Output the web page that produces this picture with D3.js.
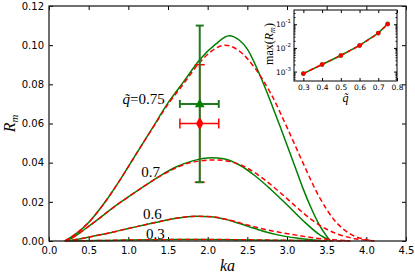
<!DOCTYPE html>
<html>
<head>
<meta charset="utf-8">
<script src="https://cdn.jsdelivr.net/npm/d3@7"></script>
<style>
  body { margin: 0; background: #fff; }
  svg { display: block; }
  .tick text { font-family: 'DejaVu Sans', sans-serif; fill: #000; }
  .tick line { stroke: #000; }
</style>
</head>
<body>
<script>
/* global d3 */
'use strict'

// main panel: R_m against ka, green solid and red dashed for each q
var green75 = [[0.2, 0], [0.35, 0.004], [0.5, 0.0095], [0.7, 0.0195], [0.9, 0.0315], [1.1, 0.0445],
  [1.3, 0.0575], [1.5, 0.0705], [1.7, 0.0815], [1.9, 0.0925], [2.1, 0.1005], [2.27, 0.1048],
  [2.4, 0.1025], [2.5, 0.098], [2.66, 0.0845], [2.8, 0.0705], [2.91, 0.0588], [3.0, 0.049],
  [3.1, 0.038], [3.2, 0.027], [3.3, 0.0172], [3.4, 0.0088], [3.5, 0.0025], [3.55, 0]]
var red75 = [[0.2, 0], [0.35, 0.004], [0.5, 0.0095], [0.7, 0.0195], [0.9, 0.0315], [1.1, 0.0445],
  [1.3, 0.0572], [1.5, 0.0698], [1.7, 0.0805], [1.9, 0.0912], [2.05, 0.097], [2.22, 0.1],
  [2.4, 0.097], [2.6, 0.088], [2.8, 0.075], [3.0, 0.058], [3.2, 0.04], [3.4, 0.023],
  [3.6, 0.0105], [3.8, 0.0035], [4.0, 0.0007], [4.1, 0]]
var green70 = [[0.2, 0], [0.3, 0.0018], [0.45, 0.006], [0.6, 0.0105], [0.8, 0.0168], [1.0, 0.0225],
  [1.2, 0.028], [1.4, 0.0333], [1.6, 0.0378], [1.8, 0.0408], [2.05, 0.0425], [2.2, 0.042],
  [2.4, 0.0388], [2.6, 0.0332], [2.8, 0.0262], [3.0, 0.0185], [3.2, 0.0105], [3.4, 0.0035], [3.55, 0]]
var red70 = [[0.2, 0], [0.3, 0.0018], [0.45, 0.006], [0.6, 0.0105], [0.8, 0.0168], [1.0, 0.0225],
  [1.2, 0.028], [1.4, 0.0331], [1.6, 0.0373], [1.8, 0.0402], [2.1, 0.0414], [2.3, 0.0404],
  [2.5, 0.0372], [2.7, 0.0318], [2.9, 0.0252], [3.1, 0.018], [3.3, 0.0112], [3.5, 0.006],
  [3.7, 0.0027], [3.9, 0.0009], [4.1, 0]]
var green60 = [[0.2, 0], [0.4, 0.0012], [0.6, 0.0028], [0.8, 0.0045], [1.0, 0.0064], [1.2, 0.0082],
  [1.4, 0.01], [1.6, 0.0116], [1.86, 0.0127], [2.05, 0.0124], [2.28, 0.0105], [2.5, 0.0076],
  [2.7, 0.005], [2.9, 0.003], [3.12, 0.0015], [3.3, 0.0006], [3.5, 0]]
var red60 = [[0.2, 0], [0.4, 0.0012], [0.6, 0.0028], [0.8, 0.0045], [1.0, 0.0064], [1.2, 0.0082],
  [1.4, 0.01], [1.6, 0.0116], [1.86, 0.0126], [2.05, 0.0124], [2.28, 0.0106], [2.5, 0.0082],
  [2.7, 0.0061], [2.9, 0.0045], [3.12, 0.003], [3.3, 0.0018], [3.54, 0.0008], [3.8, 0]]
var green30 = [[0.2, 0], [0.6, 0.0002], [1.0, 0.0005], [1.5, 0.0007], [1.9, 0.0008], [2.3, 0.0007],
  [2.7, 0.0004], [3.1, 0.0002], [3.5, 0]]
var red30 = [[0.2, 0], [0.6, 0.0002], [1.0, 0.0005], [1.5, 0.0007], [1.9, 0.0008], [2.3, 0.0007],
  [2.7, 0.0005], [3.1, 0.0003], [3.5, 0.0001], [3.8, 0]]

var curveLabels = [
  { ka: 1.46, r: 0.0700, text: '0.75', tilde: true },
  { ka: 1.4, r: 0.0325, text: '0.7' },
  { ka: 1.42, r: 0.011, text: '0.6' },
  { ka: 1.46, r: 0.0011, text: '0.3' }
]

// the two measured points with error bars
var greenPoint = { ka: 1.9, r: 0.07, kaLo: 1.65, kaHi: 2.14, rLo: 0.03, rHi: 0.11 }
var redPoint = { ka: 1.9, r: 0.06, kaLo: 1.65, kaHi: 2.14, rLo: 0.03, rHi: 0.09 }

var xTicks = [0, 0.5, 1, 1.5, 2, 2.5, 3, 3.5, 4, 4.5]
var yTicks = [0, 0.02, 0.04, 0.06, 0.08, 0.1, 0.12]

// inset: max(R_m) against q
var qValues = [0.3, 0.4, 0.5, 0.6, 0.7, 0.75]
var maxGreen = [0.00082, 0.002, 0.0048, 0.0127, 0.0425, 0.1048]
var maxRed = [0.00082, 0.002, 0.0048, 0.0126, 0.0414, 0.1]
var insetXTicks = [0.3, 0.4, 0.5, 0.6, 0.7, 0.8]
var insetYTicks = [1e-3, 1e-2, 1e-1]
var insetExp = ['-3', '-2', '-1']

var W = 415
var H = 277
var green = '#008000'
var red = '#ff0000'

var svg = d3.select('body').append('svg')
  .attr('width', W)
  .attr('height', H)

var x = d3.scaleLinear().domain([0, 4.5]).range([49, 406])
var y = d3.scaleLinear().domain([0, 0.12]).range([241, 6])

// axes with inward ticks on all four sides
svg.append('g')
  .attr('transform', 'translate(0,' + y(0) + ')')
  .call(d3.axisBottom(x).tickValues(xTicks).tickSize(-4).tickPadding(6)
    .tickFormat(d3.format('.1f')))
  .call(function (g) { g.select('.domain').remove() })
  .selectAll('text').attr('font-size', 10)
svg.append('g')
  .attr('transform', 'translate(0,' + y(0.12) + ')')
  .call(d3.axisTop(x).tickValues(xTicks).tickSize(-4).tickFormat(''))
  .call(function (g) { g.select('.domain').remove() })
svg.append('g')
  .attr('transform', 'translate(' + x(0) + ',0)')
  .call(d3.axisLeft(y).tickValues(yTicks).tickSize(-4).tickPadding(5)
    .tickFormat(d3.format('.2f')))
  .call(function (g) { g.select('.domain').remove() })
  .selectAll('text').attr('font-size', 10)
svg.append('g')
  .attr('transform', 'translate(' + x(4.5) + ',0)')
  .call(d3.axisRight(y).tickValues(yTicks).tickSize(-4).tickFormat(''))
  .call(function (g) { g.select('.domain').remove() })

var line = d3.line()
  .x(function (d) { return x(d[0]) })
  .y(function (d) { return y(d[1]) })
  .curve(d3.curveMonotoneX)

var plot = svg.append('g')
var greens = [green75, green70, green60, green30]
var reds = [red75, red70, red60, red30]
greens.forEach(function (s) {
  plot.append('path').attr('d', line(s))
    .attr('fill', 'none').attr('stroke', green).attr('stroke-width', 1.5)
})
reds.forEach(function (s) {
  plot.append('path').attr('d', line(s))
    .attr('fill', 'none').attr('stroke', red).attr('stroke-width', 1.5)
    .attr('stroke-dasharray', '5,3')
})

// curve labels
curveLabels.forEach(function (l) {
  var t = plot.append('text')
    .attr('x', x(l.ka))
    .attr('y', y(l.r))
    .attr('text-anchor', 'end')
    .attr('font-family', 'Liberation Serif, serif')
    .attr('font-size', 15)
  if (l.tilde) {
    t.append('tspan').attr('font-style', 'italic').text('q\u0303')
    t.append('tspan').text('=' + l.text)
  } else {
    t.text(l.text)
  }
})

// error bars
function errorBar (p, color, width, cap) {
  var g = plot.append('g').attr('stroke', color).attr('stroke-width', width)
  g.append('line').attr('x1', x(p.kaLo)).attr('x2', x(p.kaHi))
    .attr('y1', y(p.r)).attr('y2', y(p.r))
  g.append('line').attr('x1', x(p.ka)).attr('x2', x(p.ka))
    .attr('y1', y(p.rLo)).attr('y2', y(p.rHi))
  g.append('line').attr('x1', x(p.kaLo)).attr('x2', x(p.kaLo))
    .attr('y1', y(p.r) - cap).attr('y2', y(p.r) + cap)
  g.append('line').attr('x1', x(p.kaHi)).attr('x2', x(p.kaHi))
    .attr('y1', y(p.r) - cap).attr('y2', y(p.r) + cap)
  g.append('line').attr('x1', x(p.ka) - cap).attr('x2', x(p.ka) + cap)
    .attr('y1', y(p.rLo)).attr('y2', y(p.rLo))
  g.append('line').attr('x1', x(p.ka) - cap).attr('x2', x(p.ka) + cap)
    .attr('y1', y(p.rHi)).attr('y2', y(p.rHi))
}
errorBar(redPoint, red, 1.5, 5)
errorBar(greenPoint, '#1f7a1f', 2, 4)
plot.append('path')
  .attr('d', d3.symbol().type(d3.symbolDiamond).size(50)())
  .attr('transform', 'translate(' + x(redPoint.ka) + ',' + y(redPoint.r) + ')')
  .attr('fill', red)
plot.append('path')
  .attr('d', d3.symbol().type(d3.symbolTriangle).size(42)())
  .attr('transform', 'translate(' + x(greenPoint.ka) + ',' + (y(greenPoint.r) + 0.5) + ')')
  .attr('fill', green)

// frame
svg.append('rect')
  .attr('x', x(0)).attr('y', y(0.12))
  .attr('width', x(4.5) - x(0)).attr('height', y(0) - y(0.12))
  .attr('fill', 'none').attr('stroke', '#222').attr('stroke-width', 1.3)

// axis labels
svg.append('text')
  .attr('x', (x(0) + x(4.5)) / 2).attr('y', 271)
  .attr('text-anchor', 'middle')
  .attr('font-family', 'Liberation Serif, serif')
  .attr('font-style', 'italic')
  .attr('font-size', 16)
  .text('ka')
var yl = svg.append('text')
  .attr('transform', 'translate(15,' + y(0.06) + ') rotate(-90)')
  .attr('text-anchor', 'middle')
  .attr('font-family', 'Liberation Serif, serif')
  .attr('font-style', 'italic')
  .attr('font-size', 16)
yl.append('tspan').text('R')
yl.append('tspan').attr('font-size', 11).attr('dy', 3).text('m')

// inset
var xi = d3.scaleLinear().domain([0.25, 0.8]).range([294, 397])
var yi = d3.scaleLog().domain([4e-4, 0.4]).range([81, 10])
var inset = svg.append('g')
inset.append('rect')
  .attr('x', 294).attr('y', 10).attr('width', 103).attr('height', 71)
  .attr('fill', '#fff')

var minor = []
;[1e-4, 1e-3, 1e-2, 1e-1].forEach(function (d) {
  for (var k = 2; k <= 9; k++) {
    var v = d * k
    if (v > 4e-4 && v < 0.4) minor.push(v)
  }
})

inset.append('g')
  .attr('transform', 'translate(0,81)')
  .call(d3.axisBottom(xi).tickValues(insetXTicks).tickSize(-3).tickPadding(4)
    .tickFormat(d3.format('.1f')))
  .call(function (g) { g.select('.domain').remove() })
  .selectAll('text').attr('font-size', 7.5)
inset.append('g')
  .attr('transform', 'translate(0,10)')
  .call(d3.axisTop(xi).tickValues(insetXTicks).tickSize(-3).tickFormat(''))
  .call(function (g) { g.select('.domain').remove() })
;[[294, d3.axisLeft], [397, d3.axisRight]].forEach(function (a) {
  inset.append('g')
    .attr('transform', 'translate(' + a[0] + ',0)')
    .call(a[1](yi).tickValues(insetYTicks).tickSize(-3).tickFormat(''))
    .call(function (g) { g.select('.domain').remove() })
  inset.append('g')
    .attr('transform', 'translate(' + a[0] + ',0)')
    .call(a[1](yi).tickValues(minor).tickSize(-1.5).tickFormat(''))
    .call(function (g) { g.select('.domain').remove() })
})
insetYTicks.forEach(function (v, i) {
  var t = inset.append('text')
    .attr('x', 291).attr('y', yi(v) + 3)
    .attr('text-anchor', 'end')
    .attr('font-family', 'DejaVu Sans, sans-serif')
    .attr('font-size', 7.5)
  t.append('tspan').text('10')
  t.append('tspan').attr('font-size', 5.5).attr('dy', -4).text(insetExp[i])
})

var iline = d3.line()
  .x(function (d, i) { return xi(qValues[i]) })
  .y(function (d) { return yi(d) })
inset.append('path').attr('d', iline(maxGreen))
  .attr('fill', 'none').attr('stroke', green).attr('stroke-width', 1.5)
inset.append('path').attr('d', iline(maxRed))
  .attr('fill', 'none').attr('stroke', red).attr('stroke-width', 1.5)
  .attr('stroke-dasharray', '4,3')
inset.selectAll('circle.g').data(maxGreen).enter().append('circle')
  .attr('cx', function (d, i) { return xi(qValues[i]) })
  .attr('cy', function (d) { return yi(d) })
  .attr('r', 2.3).attr('fill', green)
inset.selectAll('circle.r').data(maxRed).enter().append('circle')
  .attr('cx', function (d, i) { return xi(qValues[i]) })
  .attr('cy', function (d) { return yi(d) })
  .attr('r', 2.2).attr('fill', red)
inset.append('rect')
  .attr('x', 294).attr('y', 10).attr('width', 103).attr('height', 71)
  .attr('fill', 'none').attr('stroke', '#000').attr('stroke-width', 1)

inset.append('text')
  .attr('x', xi(0.525)).attr('y', 102)
  .attr('text-anchor', 'middle')
  .attr('font-family', 'Liberation Serif, serif')
  .attr('font-style', 'italic')
  .attr('font-size', 12)
  .text('q\u0303')
var il = inset.append('text')
  .attr('transform', 'translate(273,44) rotate(-90)')
  .attr('text-anchor', 'middle')
  .attr('font-family', 'Liberation Serif, serif')
  .attr('font-size', 12)
il.append('tspan').text('max(')
il.append('tspan').attr('font-style', 'italic').text('R')
il.append('tspan').attr('font-style', 'italic').attr('font-size', 8).attr('dy', 2).text('m')
il.append('tspan').attr('dy', -2).text(')')
</script>
</body>
</html>
